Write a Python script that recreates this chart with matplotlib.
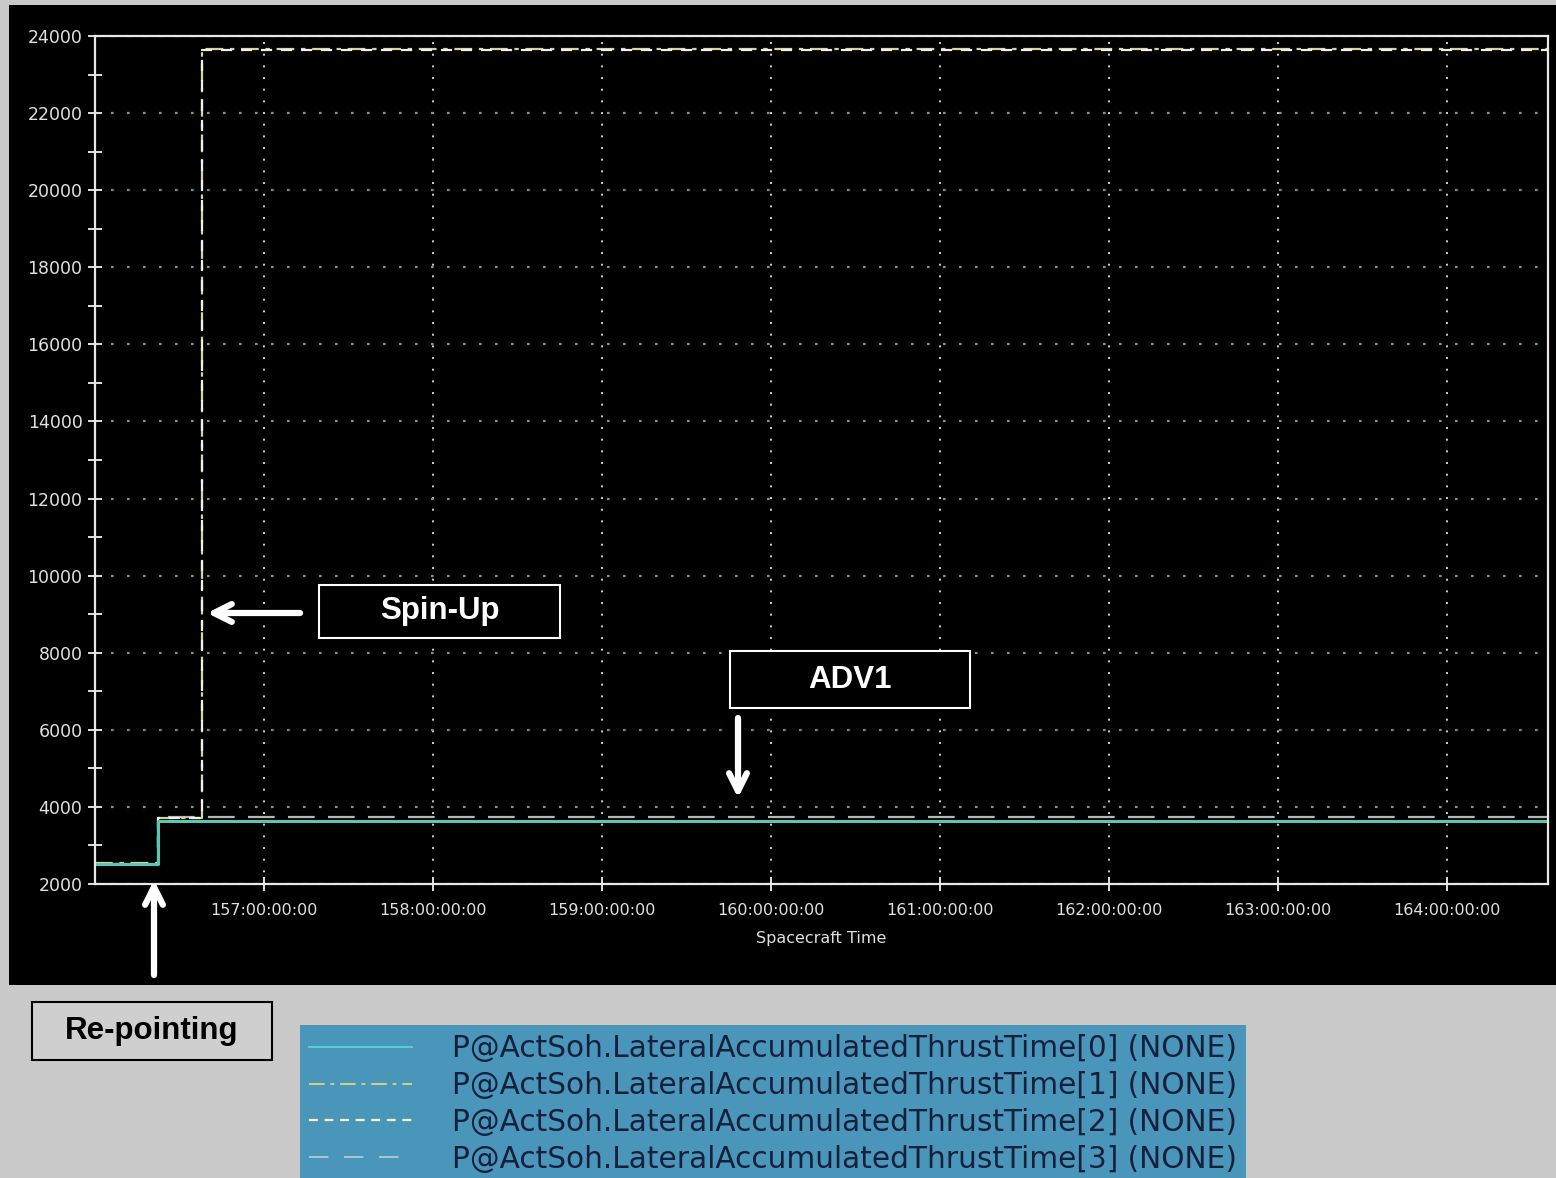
import matplotlib
matplotlib.use("Agg")
import matplotlib.pyplot as plt
from matplotlib.patches import Rectangle, FancyArrowPatch
from matplotlib.ticker import MultipleLocator, FuncFormatter

# spacecraft time in days (day-of-year), accumulated thrust time
t_low = [156.0, 156.373, 164.6]
t_spin = [156.0, 156.373, 156.633, 164.6]
thrust0 = [2520, 3640, 3640]
thrust1 = [2540, 3720, 23660, 23660]
thrust2 = [2530, 3710, 23640, 23640]
thrust3 = [2510, 3740, 3740]
labels = ["P@ActSoh.LateralAccumulatedThrustTime[%d] (NONE)" % i for i in range(4)]
day_ticks = [157, 158, 159, 160, 161, 162, 163, 164]

W, H = 1556, 1178
fig = plt.figure(figsize=(W / 100, H / 100), dpi=100, facecolor="#c9c9c9")


def px(x0, y0, x1, y1):
    # pixel box (top-left origin) -> figure fraction rect
    return (x0 / W, 1 - y1 / H, (x1 - x0) / W, (y1 - y0) / H)


# black plot panel
r = px(9, 5, 1556, 985)
fig.patches.append(Rectangle(r[:2], r[2], r[3], transform=fig.transFigure,
                             facecolor="black", edgecolor="none", zorder=-5))

ax = fig.add_axes(px(95, 36, 1548, 884))
ax.set_facecolor("black")
ax.set_zorder(1)

ax.plot(t_low, thrust3, color="#b8b8b0", lw=1.6, ls=(0, (12, 6)), drawstyle="steps-post")
ax.plot(t_spin, thrust1, color="#d8d49a", lw=1.6, ls=(0, (8, 3, 2, 3)), drawstyle="steps-post")
ax.plot(t_spin, thrust2, color="#f0f0f0", lw=1.6, ls=(0, (5, 4)), drawstyle="steps-post")
ax.plot(t_low, thrust0, color="#58c8b4", lw=2.2, drawstyle="steps-post")

ax.set_xlim(156.0, 164.6)
ax.set_ylim(2000, 24000)
ax.yaxis.set_major_locator(MultipleLocator(2000))
ax.yaxis.set_minor_locator(MultipleLocator(1000))
ax.set_xticks(day_ticks)
ax.xaxis.set_major_formatter(FuncFormatter(lambda v, p: "%d:00:00:00" % round(v)))

ax.grid(axis="y", which="major", color="#5ca48c", ls=(0, (1.2, 6)), lw=1.6)
ax.grid(axis="x", which="major", color="#d0d0d0", ls=(0, (1, 5)), lw=1.4)

for s in ax.spines.values():
    s.set_color("#e8e8e8")
    s.set_linewidth(1.6)

ax.tick_params(axis="y", which="both", direction="inout", length=10, width=1.4,
               colors="#e0e0e0", labelsize=12.5, pad=4)
ax.tick_params(axis="x", which="both", direction="inout", length=10, width=1.4,
               colors="#e0e0e0", labelsize=11.5, pad=9)
ax.set_xlabel("Spacecraft Time", color="#e0e0e0", fontsize=11.5, labelpad=9)

# annotation boxes
bold = dict(family="Liberation Sans", weight="bold", fontsize=22.5)
for (x0, y0, x1, y1), txt, fc, ec in [((319, 585, 560, 638), "Spin-Up", "black", "white"),
                                       ((730, 651, 970, 708), "ADV1", "black", "white"),
                                       ((32, 1002, 272, 1060), "Re-pointing", "#cfcfcf", "black")]:
    r = px(x0, y0, x1, y1)
    fig.patches.append(Rectangle(r[:2], r[2], r[3], transform=fig.transFigure,
                                 facecolor=fc, edgecolor=ec, lw=1.5, zorder=5))
    fig.text(r[0] + r[2] / 2, r[1] + r[3] / 2, txt, color=ec, ha="center",
             va="center", zorder=6, **bold)

for (xa, ya), (xb, yb) in [((300, 613), (207, 613)),
                           ((738, 718), (738, 798)),
                           ((154, 975), (154, 880))]:
    fig.add_artist(FancyArrowPatch(
        (xa / W, 1 - ya / H), (xb / W, 1 - yb / H), transform=fig.transFigure,
        arrowstyle="->", lw=4.5, color="white", mutation_scale=32, zorder=7,
        capstyle="round", joinstyle="round", shrinkA=0, shrinkB=0))

# legend
handles = [plt.Line2D([], [], color="#58d0d0", lw=1.4),
           plt.Line2D([], [], color="#d8d080", lw=1.4, ls=(0, (8, 3, 2, 3))),
           plt.Line2D([], [], color="#f4f4f4", lw=1.6, ls=(0, (4, 3))),
           plt.Line2D([], [], color="#a8c8d8", lw=1.4, ls=(0, (10, 8)))]
leg = fig.legend(handles, labels, loc="upper left", bbox_to_anchor=(300 / W, 1 - 1025 / H),
                 frameon=True, fancybox=False, facecolor="#4a95ba", edgecolor="none",
                 framealpha=1, fontsize=21.3, handlelength=3.5, handletextpad=1.35,
                 labelspacing=0.27, borderpad=0.3, borderaxespad=0)
for t in leg.get_texts():
    t.set_color("#16203c")

fig.savefig("out.png", dpi=100, facecolor=fig.get_facecolor())
